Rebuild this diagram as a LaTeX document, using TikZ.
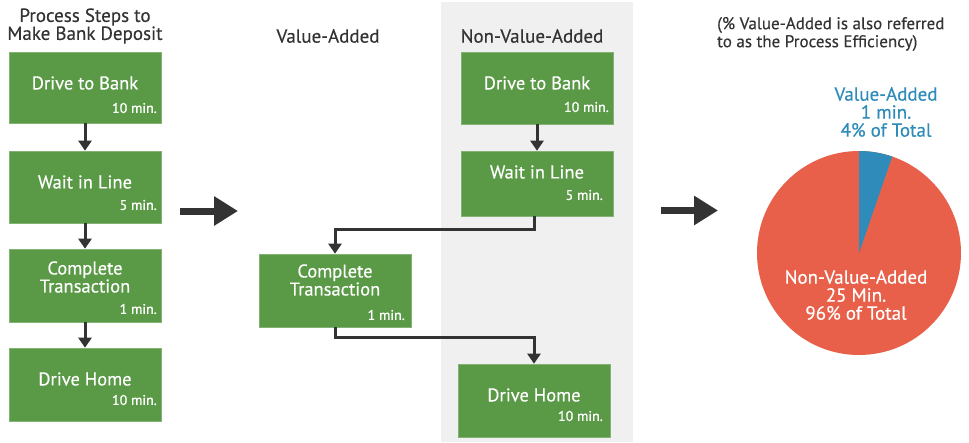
\documentclass[tikz,border=0pt]{standalone}
\usepackage{fontspec}
\setmainfont[FakeBold=0.35]{PT Sans}
\newfontfamily\minsfont[FakeBold=1.1]{PT Sans}
\usetikzlibrary{arrows.meta}
\definecolor{boxgreen}{HTML}{5A9A46}
\definecolor{pied}{HTML}{E8604A}
\definecolor{pieblue}{HTML}{2F8BB9}
\definecolor{bggray}{HTML}{F0F0F0}
\definecolor{darkc}{HTML}{333333}
\tikzset{
  stepbox/.style={fill=boxgreen, draw=boxgreen!75!white, line width=0.6pt, minimum width=152pt, inner sep=0pt},
  lbl/.style={text=white, font=\fontsize{18.5}{18}\selectfont, align=center, inner sep=0pt},
  mins/.style={text=white, font=\minsfont\fontsize{14}{15}\selectfont, anchor=east, inner sep=0pt},
  head/.style={text=darkc, font=\fontsize{19}{18}\selectfont, align=center, inner sep=0pt},
  conn/.style={draw=darkc, line width=3pt, -{Triangle[width=13pt,length=10pt]}},
  bigarrow/.style={draw=darkc, line width=7pt, -{Triangle[width=28pt,length=24pt]}},
}
\begin{document}
\begin{tikzpicture}[x=1pt,y=1pt]
\useasboundingbox (0,0) rectangle (969,-442);
\fill[bggray] (441,-2) rectangle (633,-442);

% headings
\node[head] (h1) at (85,-26) {Process Steps to\\Make Bank Deposit};
\node[head] (h2) at (328,-36) {Value-Added};
\node[head] (h3) at (532,-36) {Non-Value-Added};
\node[head, align=left, anchor=west, font=\fontsize{17}{18}\selectfont] (h4) at (717,-34) {(\% Value-Added is also referred\\to as the Process Efficiency)};

% left column
\node[stepbox, minimum height=71pt] (l1) at (85,-87.5) {};
\node[stepbox, minimum height=72pt] (l2) at (85,-187) {};
\node[stepbox, minimum height=73pt] (l3) at (85,-285.5) {};
\node[stepbox, minimum height=73pt] (l4) at (85,-384.5) {};
\node[lbl] (t1) at (85,-83) {Drive to Bank};
\node[mins] (m1) at (157,-108) {10 min.};
\node[lbl] (t2) at (85,-182) {Wait in Line};
\node[mins] (m2) at (157,-205) {5 min.};
\node[lbl] (t3) at (85,-277) {Complete\\Transaction};
\node[mins] (m3) at (157,-309) {1 min.};
\node[lbl] (t4) at (85,-379) {Drive Home};
\node[mins] (m4) at (157,-400) {10 min.};
\draw[conn] (l1.south) -- (l2.north);
\draw[conn] (l2.south) -- (l3.north);
\draw[conn] (l3.south) -- (l4.north);

% middle
\node[stepbox, minimum height=72pt] (n1) at (537,-88) {};
\node[stepbox, minimum height=65pt] (n2) at (537,-183.5) {};
\node[stepbox, minimum height=73pt] (ct) at (335,-290.5) {};
\node[stepbox, minimum height=73pt] (dh) at (534,-400.5) {};
\node[lbl] (u1) at (537,-83) {Drive to Bank};
\node[mins] (v1) at (609,-107) {10 min.};
\node[lbl] (u2) at (537,-172) {Wait in Line};
\node[mins] (v2) at (603,-195) {5 min.};
\node[lbl] (u3) at (335,-280) {Complete\\Transaction};
\node[mins] (v3) at (405,-315) {1 min.};
\node[lbl] (u4) at (534,-395) {Drive Home};
\node[mins] (v4) at (603,-416) {10 min.};
\coordinate (e1) at (0,-229);
\coordinate (e2) at (0,-337);
\draw[conn] (n1.south) -- (n2.north);
\draw[conn] ([xshift=-3pt]n2.south) -- ([xshift=-3pt]n2.south |- e1) -| (ct.north);
\draw[conn] (ct.south) -- (ct.south |- e2) -| (dh.north);

% big arrows
\coordinate (a1s) at (180,-211);
\coordinate (a1e) at (238,-211);
\coordinate (a2s) at (661,-210.5);
\coordinate (a2e) at (718,-210.5);
\draw[bigarrow] (a1s) -- (a1e);
\draw[bigarrow] (a2s) -- (a2e);

% pie
\coordinate (pc) at (859,-253);
\fill[pied] (pc) circle (102);
\fill[pieblue] (pc) -- ++(90:102) arc (90:71:102) -- cycle;
\node[head, text=pieblue] (pb) at (886,-112) {Value-Added\\1 min.\\4\% of Total};
\node[head, text=white] (pw) at (856,-295) {Non-Value-Added\\25 Min.\\96\% of Total};
\end{tikzpicture}
\end{document}
